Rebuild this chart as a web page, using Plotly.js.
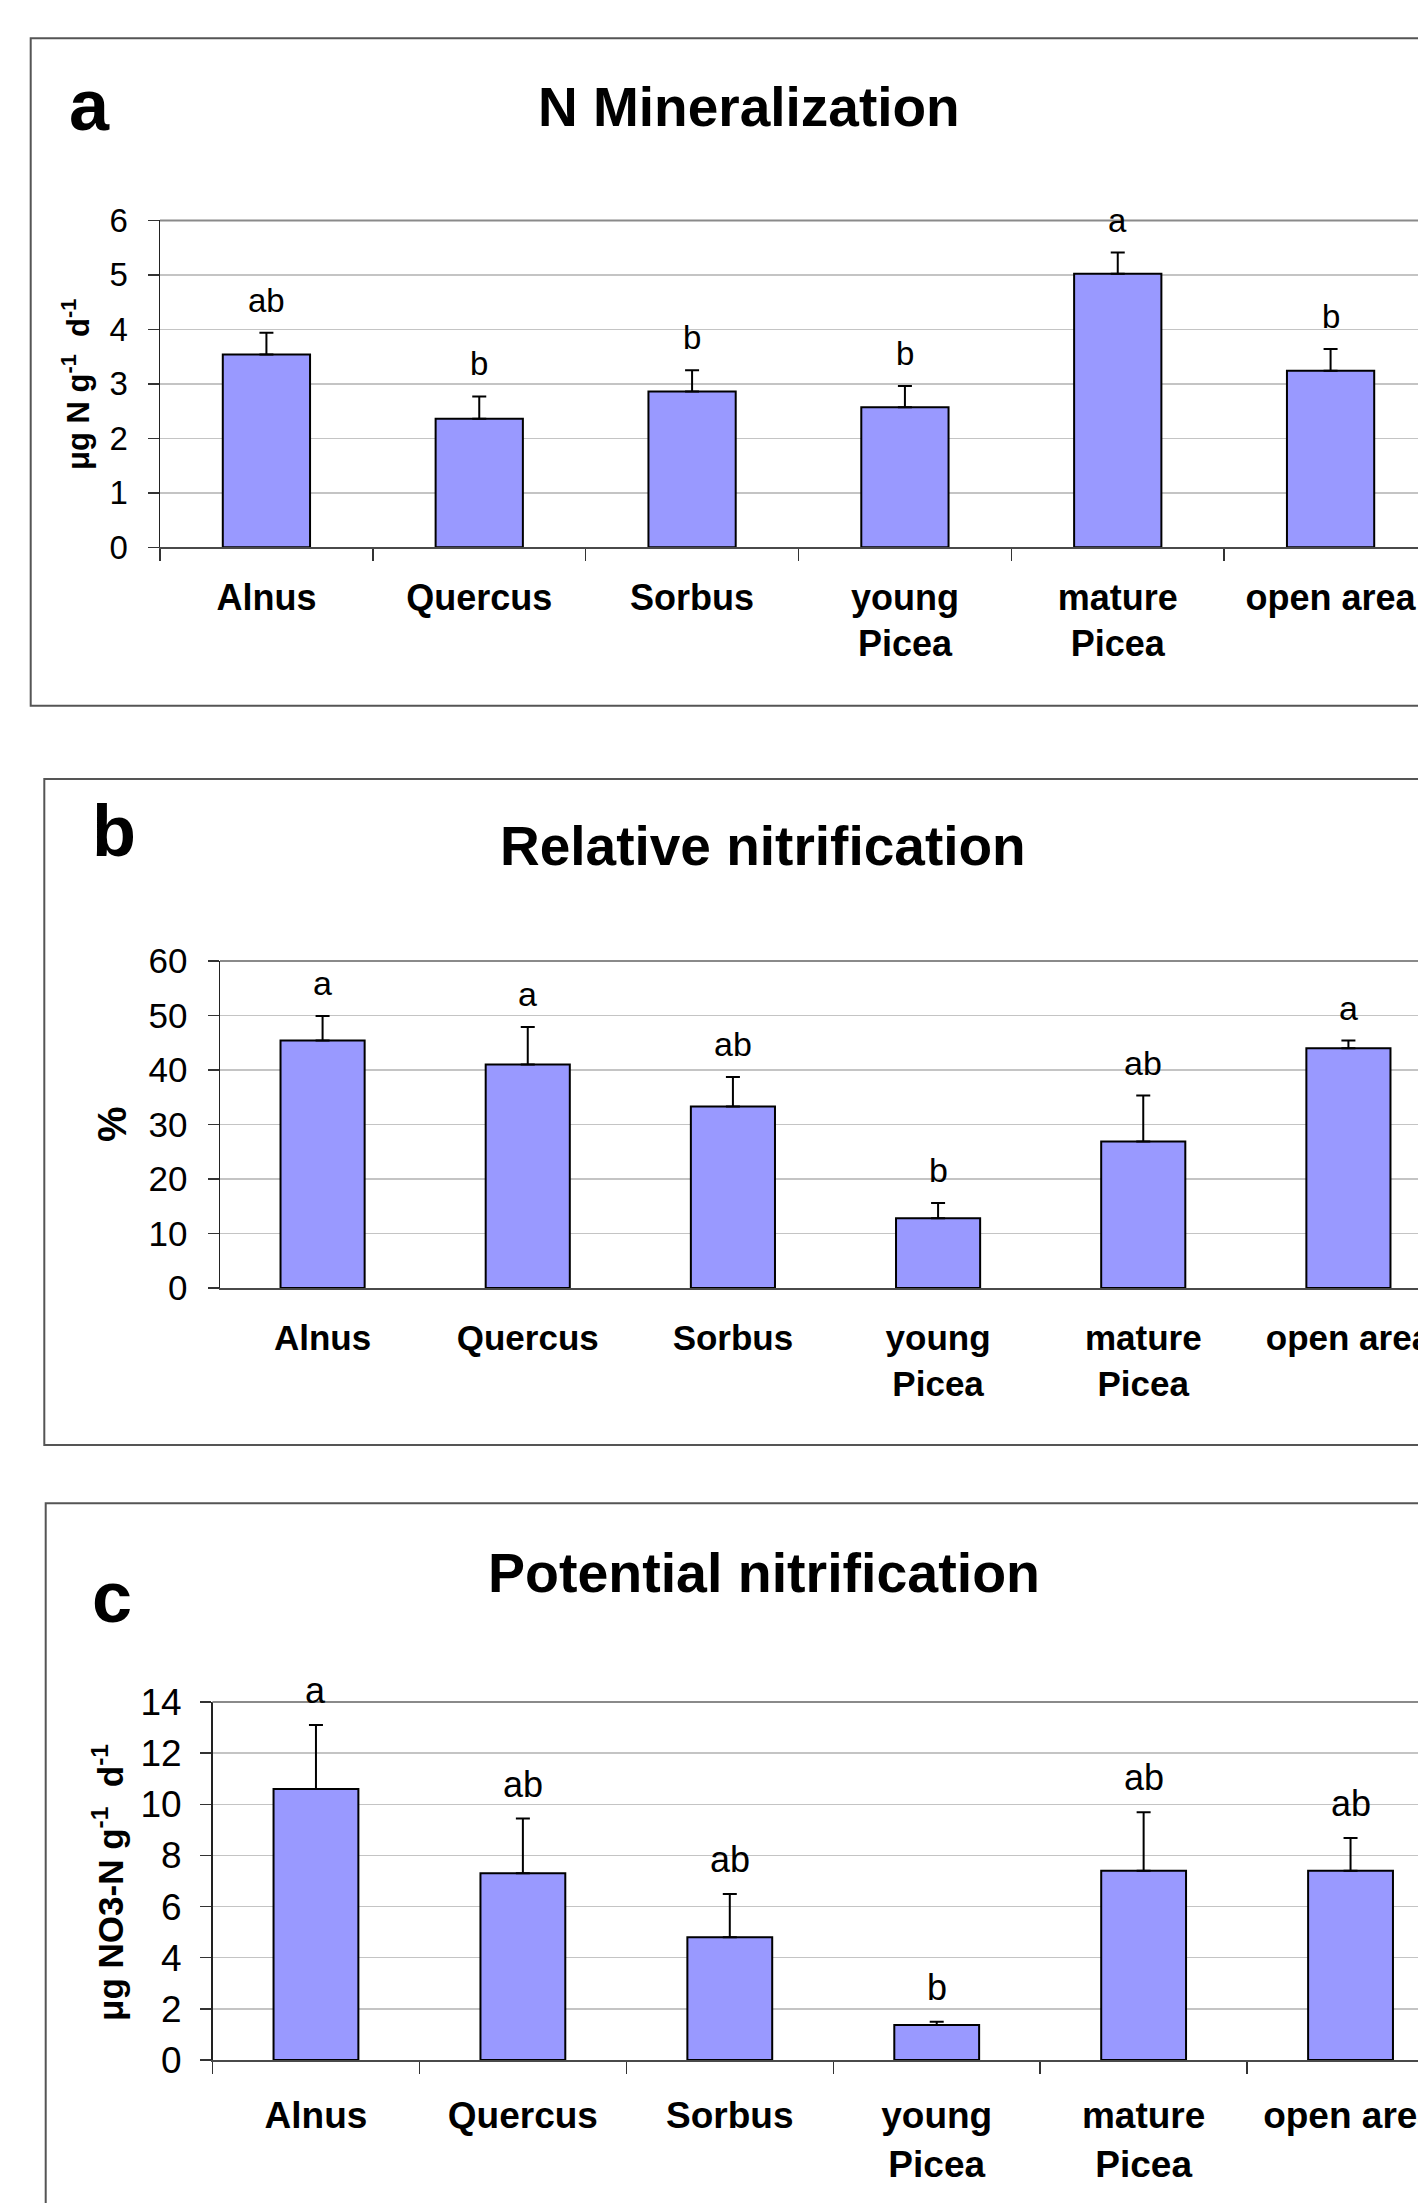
<!DOCTYPE html>
<html>
<head>
<meta charset="utf-8">
<script src="https://cdn.plot.ly/plotly-3.0.1.min.js"></script>
<style>
  html, body { margin: 0; padding: 0; background: #fff; overflow: hidden; }
  #chart { width: 1460px; height: 2203px; }
</style>
</head>
<body>
<div id="chart"></div>
<script>
// ---- data ----
const categories = ["Alnus", "Quercus", "Sorbus", "young<br>Picea", "mature<br>Picea", "open area"];

const panelLetters = ["a", "b", "c"];
const panelTitles = ["N Mineralization", "Relative nitrification", "Potential nitrification"];
const yTitles = ["μg N g<sup>-1</sup>\u00A0 d<sup>-1</sup>", "%", "μg NO3-N g<sup>-1</sup>\u00A0 d<sup>-1</sup>"];

const nMinValues = [3.54, 2.36, 2.86, 2.57, 5.02, 3.24];
const nMinErrors = [0.40, 0.41, 0.39, 0.39, 0.39, 0.40];
const nMinLetters = ["ab", "b", "b", "b", "a", "b"];

const relNitValues = [45.4, 41.0, 33.3, 12.8, 26.9, 44.0];
const relNitErrors = [4.5, 6.9, 5.4, 2.8, 8.4, 1.4];
const relNitLetters = ["a", "a", "ab", "b", "ab", "a"];

const potNitValues = [10.6, 7.3, 4.8, 1.37, 7.4, 7.4];
const potNitErrors = [2.5, 2.14, 1.69, 0.13, 2.29, 1.28];
const potNitLetters = ["a", "ab", "ab", "b", "ab", "ab"];

const yRanges = [[0, 6], [0, 60], [0, 14]];
const yDticks = [1, 10, 2];

// ---- layout helpers (pixel -> paper) ----
const W = 1460, H = 2203;
const fx = p => p / W;
const fy = p => 1 - p / H;
const FONT = "Liberation Sans, Arial, Helvetica, sans-serif";

const series = [
  {vals: nMinValues, errs: nMinErrors, letters: nMinLetters},
  {vals: relNitValues, errs: relNitErrors, letters: relNitLetters},
  {vals: potNitValues, errs: potNitErrors, letters: potNitLetters}
];

// panel geometry (pixels)
const geo = [
  {xl: 160, xr: 1437, yt: 220.4, yb: 547.3, frame: [30.7, 38.3, 705.7], tickFs: 33, catFs: 36, letFs: 33,
   ticks: true, xStand: 17, yStand: 13, titleFs: 55, titleX: 749, titleY: 107,
   plX: 89, plY: 105, ytX: 76, ytY: 385, ytFs: 31},
  {xl: 220, xr: 1451, yt: 961, yb: 1288, frame: [44.3, 779, 1445], tickFs: 35, catFs: 35, letFs: 34,
   ticks: false, xStand: 18, yStand: 13, titleFs: 55, titleX: 763, titleY: 846,
   plX: 114, plY: 831, ytX: 112, ytY: 1124, ytFs: 40},
  {xl: 212.5, xr: 1454, yt: 1702, yb: 2060, frame: [45.7, 1503.3, 2300], tickFs: 37, catFs: 37, letFs: 36,
   ticks: true, xStand: 22, yStand: 11, titleFs: 55.5, titleX: 764, titleY: 1573,
   plX: 112, plY: 1597, ytX: 108, ytY: 1883, ytFs: 35}
];

const traces = [];
const layout = {
  width: W, height: H,
  margin: {l: 0, r: 0, t: 0, b: 0, pad: 0},
  paper_bgcolor: "#ffffff",
  plot_bgcolor: "rgba(0,0,0,0)",
  showlegend: false,
  bargap: 0.59,
  font: {family: FONT, color: "#000"},
  annotations: [],
  shapes: []
};

series.forEach((s, i) => {
  const g = geo[i];
  const sfx = i === 0 ? "" : String(i + 1);
  const xa = "x" + sfx, ya = "y" + sfx;

  traces.push({
    type: "bar",
    x: categories,
    y: s.vals,
    xaxis: xa, yaxis: ya,
    marker: {color: "#9999ff", line: {color: "#000000", width: 2}},
    error_y: {
      type: "data", symmetric: false,
      array: s.errs, arrayminus: s.errs.map(() => 0),
      color: "#000000", thickness: 2, width: 7
    },
    hoverinfo: "skip"
  });

  layout["xaxis" + sfx] = {
    domain: [fx(g.xl), fx(g.xr)],
    anchor: ya,
    type: "category",
    range: [-0.5, 5.5],
    showgrid: false, zeroline: false,
    showline: true, linecolor: "#4a4a4a", linewidth: 2,
    ticks: g.ticks ? "outside" : "",
    tickson: "boundaries",
    ticklen: 12, tickwidth: 1.5, tickcolor: "#333",
    ticklabelstandoff: g.xStand,
    tickfont: {family: FONT, size: g.catFs, color: "#000", weight: "bold"},
    fixedrange: true
  };
  layout["yaxis" + sfx] = {
    domain: [fy(g.yb), fy(g.yt)],
    anchor: xa,
    range: yRanges[i],
    dtick: yDticks[i], tick0: 0,
    showgrid: true, gridcolor: "#c4c4c4", gridwidth: 1.5,
    zeroline: false,
    showline: true, linecolor: "#222", linewidth: 1.5,
    ticks: "outside", ticklen: 11, tickwidth: 1.5, tickcolor: "#333",
    ticklabelstandoff: g.yStand,
    tickfont: {family: FONT, size: g.tickFs, color: "#000"},
    fixedrange: true
  };

  // top border of plot area
  layout.shapes.push({
    type: "line", xref: xa + " domain", yref: ya + " domain",
    x0: 0, x1: 1, y0: 1, y1: 1,
    line: {color: "#8a8a8a", width: 2}
  });
  // panel frame
  layout.shapes.push({
    type: "rect", xref: "paper", yref: "paper",
    x0: fx(g.frame[0]), x1: 1.05, y0: fy(g.frame[2]), y1: fy(g.frame[1]),
    line: {color: "#555555", width: 2}, fillcolor: "rgba(0,0,0,0)", layer: "below"
  });

  // significance letters
  s.letters.forEach((t, j) => {
    layout.annotations.push({
      xref: xa, yref: ya, x: categories[j], y: s.vals[j] + s.errs[j],
      text: t, showarrow: false, xanchor: "center", yanchor: "bottom", yshift: 12,
      font: {family: FONT, size: g.letFs, color: "#000"}
    });
  });

  // panel title
  layout.annotations.push({
    xref: "paper", yref: "paper", x: fx(g.titleX), y: fy(g.titleY),
    text: "<b>" + panelTitles[i] + "</b>", showarrow: false,
    xanchor: "center", yanchor: "middle",
    font: {family: FONT, size: g.titleFs, color: "#000"}
  });
  // panel letter
  layout.annotations.push({
    xref: "paper", yref: "paper", x: fx(g.plX), y: fy(g.plY),
    text: "<b>" + panelLetters[i] + "</b>", showarrow: false,
    xanchor: "center", yanchor: "middle",
    font: {family: FONT, size: 72, color: "#000"}
  });
  // y-axis title
  layout.annotations.push({
    xref: "paper", yref: "paper", x: fx(g.ytX), y: fy(g.ytY),
    text: "<b>" + yTitles[i] + "</b>", showarrow: false, textangle: -90,
    xanchor: "center", yanchor: "middle",
    font: {family: FONT, size: g.ytFs, color: "#000"}
  });
});

Plotly.newPlot("chart", traces, layout, {staticPlot: true, displayModeBar: false});
</script>
</body>
</html>
